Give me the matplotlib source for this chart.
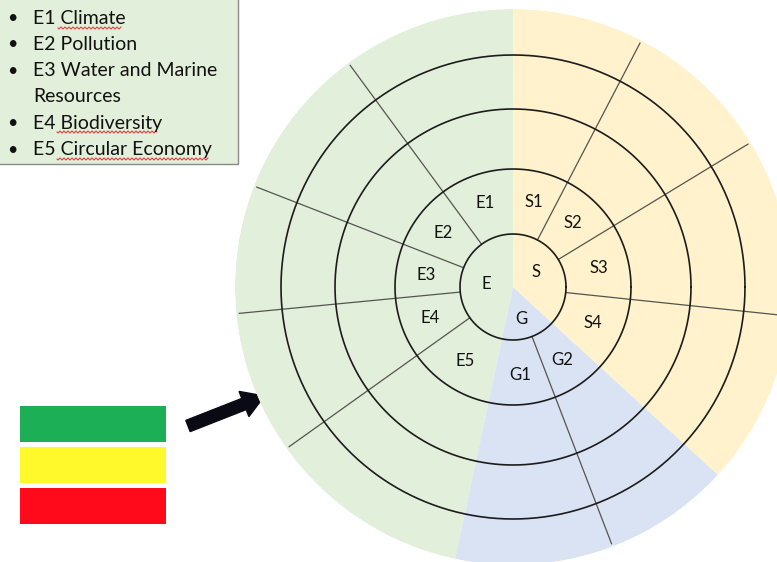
import numpy as np
import matplotlib
matplotlib.use("Agg")
import matplotlib.pyplot as plt
from matplotlib.patches import Rectangle, FancyArrow

plt.rcParams['font.family'] = ['Lato', 'DejaVu Sans']

# ---------------- data ----------------
pillars = ['E', 'G', 'S']
pillar_start = [90.0, 258.0, 317.5]      # degrees, counter-clockwise from east
pillar_end = [258.0, 317.5, 450.0]
pillar_colors = ['#E2EFDA', '#DAE3F3', '#FFF2CC']
pillar_label_r = [27, 33, 27]
pillar_label_ang = [173, 285, 33]

topics_E = ['E1', 'E2', 'E3', 'E4', 'E5']
topics_G = ['G1', 'G2']
topics_S = ['S4', 'S3', 'S2', 'S1']
bounds_E = [90.0, 126.3, 158.7, 185.5, 215.5, 258.0]
bounds_G = [258.0, 291.0, 317.5]
bounds_S = [317.5, 354.0, 391.3, 422.5, 450.0]

ring_radii = [53, 118, 178, 232]
disc_radius = 278
spoke_end = 275
topic_label_r = 88

legend_lines = ['E1 Climate', 'E2 Pollution', 'E3 Water and Marine',
                'Resources', 'E4 Biodiversity', 'E5 Circular Economy']
legend_bullet = [True, True, True, False, True, True]
# spell-check underline spans (pixel x from, x to, y) for flagged words
squiggles = [(58, 121, 28), (57, 157, 132), (57, 208, 159)]
status_colors = ['#1DAF55', '#FFF92C', '#FF0A1A']

# ---------------- figure ----------------
W, H = 777, 562
fig = plt.figure(figsize=(W / 100, H / 100), dpi=100)
fig.patch.set_facecolor('white')

# overlay axes in pixel coordinates
ax0 = fig.add_axes([0, 0, 1, 1])
ax0.set_xlim(0, W)
ax0.set_ylim(H, 0)
ax0.axis('off')

# legend box
ax0.add_patch(Rectangle((-3, -3), 241, 167, facecolor='#E2EFDA',
                        edgecolor='#8a8a8a', lw=1.0))
line_y = [18, 44, 71, 97, 123, 150]
for y, t, b in zip(line_y, legend_lines, legend_bullet):
    if b:
        ax0.text(7, y, '\u2022', fontsize=13, va='center', ha='left',
                 color='#111111')
    ax0.text(33, y, t, fontsize=14, va='center', ha='left', color='#111111')
for x0, x1, y in squiggles:
    xs = np.arange(x0, x1 + 0.5, 0.5)
    ax0.plot(xs, y + 1.0 * np.sin((xs - x0) * np.pi / 2.0), color='#E03030',
             lw=0.7)

# status colour bars
bar_top = [406, 447, 488]
for y, c in zip(bar_top, status_colors):
    ax0.add_patch(Rectangle((20, y), 146, 36, facecolor=c, edgecolor='none'))

# arrow
ax0.add_patch(FancyArrow(188, 426, 56, -22, width=12, head_width=27,
                         head_length=22, length_includes_head=False,
                         color='#0a0a14'))

# ---------------- polar wheel ----------------
cx, cy = 513, 287
left = (cx - disc_radius) / W
bottom = (H - cy - disc_radius) / H
ax = fig.add_axes([left, bottom, 2 * disc_radius / W, 2 * disc_radius / H],
                  projection='polar')
ax.patch.set_alpha(0)
ax.set_ylim(0, disc_radius)
ax.axis('off')

for s, e, c in zip(pillar_start, pillar_end, pillar_colors):
    ax.bar(np.deg2rad((s + e) / 2), disc_radius, width=np.deg2rad(e - s),
           bottom=0, color=c, edgecolor='none', align='center', zorder=1)

theta = np.linspace(0, 2 * np.pi, 721)
for r in ring_radii:
    ax.plot(theta, np.full_like(theta, r), color='#1c1c1c', lw=1.2, zorder=3)

for bounds in (bounds_E, bounds_G, bounds_S):
    for b in bounds[1:-1]:
        t = np.deg2rad(b)
        ax.plot([t, t], [ring_radii[0], spoke_end], color='#555550', lw=0.9,
                zorder=2)

for names, bounds in ((topics_E, bounds_E), (topics_G, bounds_G), (topics_S, bounds_S)):
    for i, n in enumerate(names):
        mid = np.deg2rad((bounds[i] + bounds[i + 1]) / 2)
        ax.text(mid, topic_label_r, n, fontsize=12, ha='center', va='center',
                color='#111111', zorder=4)

for p, r, a in zip(pillars, pillar_label_r, pillar_label_ang):
    ax.text(np.deg2rad(a), r, p, fontsize=12, ha='center', va='center',
            color='#111111', zorder=4)

fig.savefig('out.png', dpi=100)
